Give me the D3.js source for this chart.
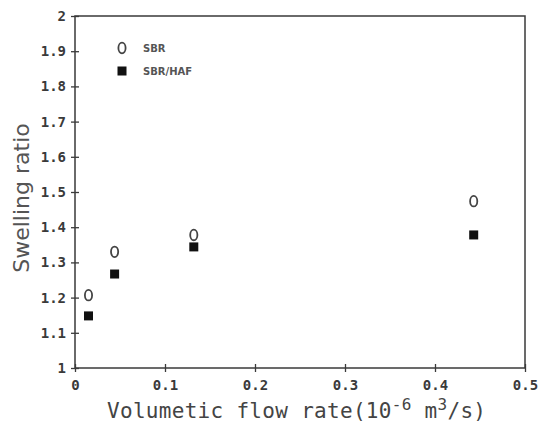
<!DOCTYPE html>
<html>
<head>
<meta charset="utf-8">
<script src="https://cdn.jsdelivr.net/npm/d3@7"></script>
<style>
  body { margin: 0; background: #fff; }
  svg { display: block; }
</style>
</head>
<body>
<svg id="chart"></svg>
<script>
// flow rate (10^-6 m^3/s)
const flowRate = [0.015, 0.044, 0.132, 0.443];
const sbr = [1.207, 1.330, 1.378, 1.474];
const sbrHaf = [1.148, 1.267, 1.344, 1.378];
const xTicks = [0, 0.1, 0.2, 0.3, 0.4, 0.5];
const yTicks = [1, 1.1, 1.2, 1.3, 1.4, 1.5, 1.6, 1.7, 1.8, 1.9, 2];
const seriesNames = ['SBR', 'SBR/HAF'];

const width = 545, height = 426;
const margin = {top: 16, right: 20, bottom: 58, left: 75};
const innerW = width - margin.left - margin.right;
const innerH = height - margin.top - margin.bottom;
const ink = '#3a3a3a';
const mono = '"DejaVu Sans Mono", "Liberation Mono", monospace';

const svg = d3.select('#chart').attr('width', width).attr('height', height);
const chart = svg.append('g').attr('transform', `translate(${margin.left},${margin.top})`);

const xscale = d3.scaleLinear().domain([0, 0.5]).range([0, innerW]);
const yscale = d3.scaleLinear().domain([1, 2]).range([innerH, 0]);

// frame
chart.append('rect')
    .attr('width', innerW).attr('height', innerH)
    .attr('fill', 'none').attr('stroke', ink).attr('stroke-width', 1.5);

// axes with crossing ticks
const xaxis = d3.axisBottom(xscale).tickValues(xTicks)
    .tickFormat(d => d === 0 ? '0' : d3.format('.1f')(d))
    .tickSizeInner(4).tickSizeOuter(0).tickPadding(8);
const yaxis = d3.axisLeft(yscale).tickValues(yTicks)
    .tickFormat(d => d === 1 || d === 2 ? String(d) : d3.format('.1f')(d))
    .tickSizeInner(4).tickSizeOuter(0).tickPadding(6);

const gx = chart.append('g').attr('transform', `translate(0,${innerH})`).call(xaxis);
const gy = chart.append('g').call(yaxis);
[gx, gy].forEach(g => {
    g.select('.domain').remove();
    g.selectAll('.tick text')
        .attr('fill', ink)
        .style('font-family', mono)
        .style('font-size', '14px')
        .style('font-weight', 'bold');
});
gx.selectAll('.tick line').attr('y1', -4).attr('stroke', ink).attr('stroke-width', 1.3);
gy.selectAll('.tick line').attr('x1', 4).attr('x2', -4).attr('stroke', ink).attr('stroke-width', 1.3);
gy.selectAll('.tick text').attr('x', -9);

// SBR: open O markers
chart.selectAll('.sbr')
    .data(flowRate.map((f, i) => ({f, v: sbr[i]})))
    .join('ellipse')
    .attr('class', 'sbr')
    .attr('cx', d => xscale(d.f))
    .attr('cy', d => yscale(d.v))
    .attr('rx', 3.6).attr('ry', 5.3)
    .attr('fill', 'none').attr('stroke', '#444').attr('stroke-width', 1.8);

// SBR/HAF: filled squares
const sq = 9;
chart.selectAll('.haf')
    .data(flowRate.map((f, i) => ({f, v: sbrHaf[i]})))
    .join('rect')
    .attr('class', 'haf')
    .attr('x', d => xscale(d.f) - sq / 2)
    .attr('y', d => yscale(d.v) - sq / 2)
    .attr('width', sq).attr('height', sq)
    .attr('fill', '#111');

// legend
const legend = svg.append('g').attr('transform', 'translate(122,48)');
legend.append('ellipse').attr('cx', 0).attr('cy', 0).attr('rx', 3.6).attr('ry', 5.3)
    .attr('fill', 'none').attr('stroke', '#444').attr('stroke-width', 1.8);
legend.append('rect').attr('x', -4.5).attr('y', 23 - 4.5).attr('width', 9).attr('height', 9).attr('fill', '#111');
legend.selectAll('text')
    .data(seriesNames)
    .join('text')
    .attr('x', 21)
    .attr('y', (d, i) => i * 23 + 4)
    .attr('fill', '#555')
    .style('font-family', '"DejaVu Sans", sans-serif')
    .style('font-size', '10px')
    .style('font-weight', 'bold')
    .text(d => d);

// axis titles
const xt = svg.append('text')
    .attr('x', 107).attr('y', 418)
    .attr('fill', '#444')
    .style('font-family', mono)
    .style('font-size', '21px')
    .style('letter-spacing', '0.3px');
xt.append('tspan').text('Volumetic flow rate(10');
xt.append('tspan').attr('dy', -8).style('font-size', '16px').text('-6');
xt.append('tspan').attr('dy', 8).text('\u00a0m');
xt.append('tspan').attr('dy', -8).style('font-size', '16px').text('3');
xt.append('tspan').attr('dy', 8).text('/s)');

svg.append('text')
    .attr('transform', 'translate(29,198) rotate(-90)')
    .attr('text-anchor', 'middle')
    .attr('fill', '#555')
    .style('font-family', '"DejaVu Sans", sans-serif')
    .style('font-size', '22px')
    .text('Swelling ratio');
</script>
</body>
</html>
